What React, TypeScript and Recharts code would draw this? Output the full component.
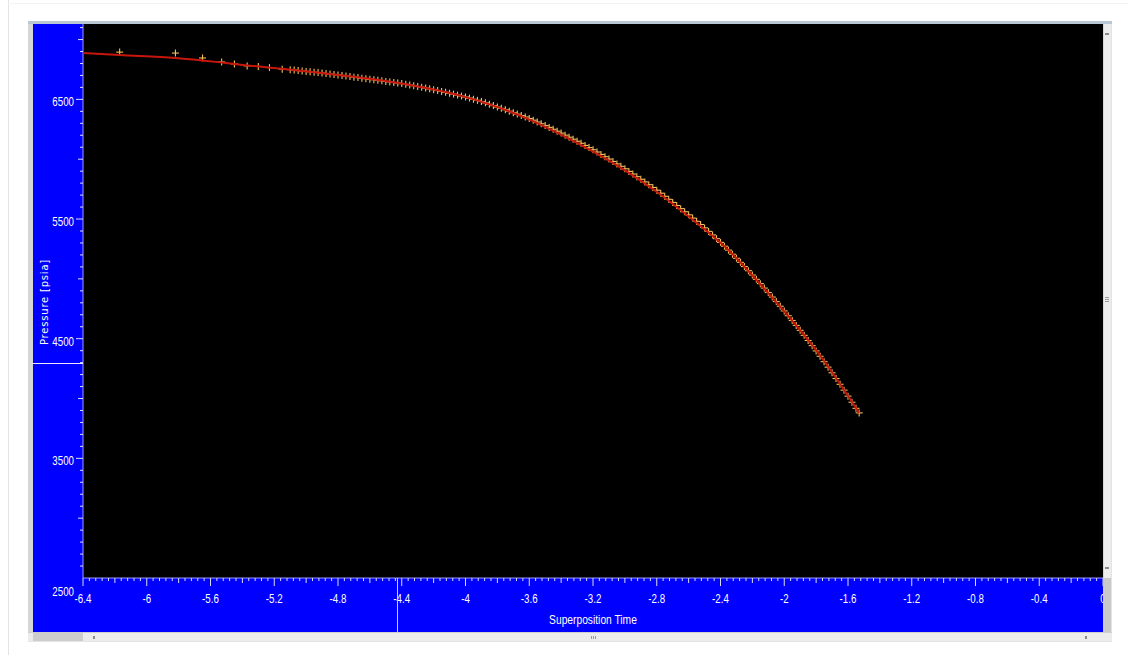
import React from "react";
import { CartesianGrid, ComposedChart, Line, Scatter, XAxis, YAxis } from "recharts";

// x axis labels (superposition time) and y axis labels (pressure, psia)
const timeLabels = [-6.4, -6, -5.6, -5.2, -4.8, -4.4, -4, -3.6, -3.2, -2.8, -2.4, -2, -1.6, -1.2, -0.8, -0.4, 0];
const pressureLabels = [2500, 3500, 4500, 5500, 6500];

// measured points (crosses)
const measuredTime = [
  -6.17, -5.82, -5.65, -5.53, -5.45, -5.37, -5.3, -5.23, -5.15,
  -5.1, -5.075, -5.05, -5.025, -5.0, -4.975, -4.95, -4.925, -4.9, -4.875,
  -4.85, -4.825, -4.8, -4.775, -4.75, -4.725, -4.7, -4.675, -4.65, -4.625,
  -4.6, -4.575, -4.55, -4.525, -4.5, -4.475, -4.45, -4.425, -4.4, -4.375,
  -4.35, -4.325, -4.3, -4.275, -4.25, -4.225, -4.2, -4.175, -4.15, -4.125,
  -4.1, -4.075, -4.05, -4.025, -4.0, -3.975, -3.95, -3.925, -3.9, -3.875,
  -3.85, -3.825, -3.8, -3.775, -3.75, -3.725, -3.7, -3.675, -3.65, -3.625,
  -3.6, -3.575, -3.55, -3.525, -3.5, -3.475, -3.45, -3.425, -3.4, -3.375,
  -3.35, -3.325, -3.3, -3.275, -3.25, -3.225, -3.2, -3.175, -3.15, -3.125,
  -3.1, -3.075, -3.05, -3.025, -3.0, -2.975, -2.95, -2.925, -2.9, -2.875,
  -2.85, -2.825, -2.8, -2.775, -2.75, -2.725, -2.7, -2.675, -2.65, -2.625,
  -2.6, -2.575, -2.55, -2.525, -2.5, -2.475, -2.45, -2.425, -2.4, -2.375,
  -2.35, -2.325, -2.3, -2.275, -2.25, -2.225, -2.2, -2.175, -2.15, -2.125,
  -2.1, -2.075, -2.05, -2.025, -2.0, -1.975, -1.95, -1.925, -1.9, -1.875,
  -1.85, -1.825, -1.8, -1.775, -1.75, -1.725, -1.7, -1.675, -1.65, -1.625,
  -1.6, -1.575, -1.55, -1.53,
];
const measuredPressure = [
  6895, 6887, 6846, 6813, 6796, 6780, 6775, 6766, 6752,
  6748, 6745, 6741, 6738, 6734, 6731, 6727, 6724, 6720, 6716,
  6712, 6708, 6704, 6700, 6695, 6691, 6686, 6682, 6677, 6673,
  6668, 6664, 6659, 6655, 6650, 6646, 6641, 6637, 6632, 6626,
  6620, 6614, 6608, 6602, 6595, 6588, 6581, 6574, 6566, 6559,
  6551, 6544, 6536, 6528, 6520, 6511, 6501, 6492, 6482, 6471,
  6459, 6448, 6436, 6425, 6413, 6401, 6389, 6377, 6365, 6353,
  6340, 6326, 6311, 6296, 6281, 6266, 6250, 6234, 6218, 6201,
  6184, 6167, 6150, 6133, 6115, 6097, 6079, 6060, 6040, 6021,
  6001, 5981, 5961, 5941, 5920, 5898, 5876, 5854, 5832, 5810,
  5787, 5764, 5741, 5716, 5690, 5665, 5639, 5613, 5587, 5561,
  5535, 5508, 5481, 5454, 5426, 5397, 5367, 5336, 5305, 5273,
  5240, 5206, 5172, 5138, 5103, 5068, 5032, 4996, 4960, 4923,
  4886, 4848, 4810, 4771, 4732, 4692, 4652, 4611, 4570, 4528,
  4485, 4442, 4398, 4353, 4308, 4262, 4215, 4167, 4119, 4070,
  4020, 3969, 3918, 3880,
];

// model curve (red line)
const modelTime = [-6.4, -6.17, -5.82, -5.53, -5.37, -5.09, -4.81, -4.42, -4.02, -3.83, -3.62, -3.41, -3.21, -2.99, -2.79, -2.58, -2.37, -2.12, -1.91, -1.78, -1.53];
const modelPressure = [6887, 6870, 6846, 6808, 6784, 6747, 6706, 6637, 6527, 6450, 6344, 6212, 6072, 5899, 5718, 5500, 5266, 4910, 4586, 4368, 3880];

const measured = measuredTime.map((t, i) => ({ t, p: measuredPressure[i] }));
const model = modelTime.map((t, i) => ({ t, p: modelPressure[i] }));

// minor ticks: every 0.04 on x, every 100 psi on y
const xTicks: number[] = [];
for (let k = -640; k <= 0; k += 4) xTicks.push(k / 100);
const yTicks: number[] = [];
for (let v = 2500; v <= 7100; v += 100) yTicks.push(v);

const sans = "'Liberation Sans', Arial, sans-serif";
const tickColor = "#dcdcff";

// condensed look: regular sans squeezed horizontally
const NarrowText = ({ x, y, anchor, children }: any) => (
  <text
    transform={`translate(${x},${y}) scale(0.78,1)`}
    textAnchor={anchor}
    fill="#fff"
    fontSize={12.5}
    fontFamily={sans}
  >
    {children}
  </text>
);

const TimeTick = (props: any) => {
  const { x, y, payload } = props;
  const k = Math.round(payload.value * 100);
  const major = k % 40 === 0;
  const mid = k % 20 === 0;
  const len = major ? 8 : mid ? 5 : 3;
  const label = timeLabels.find((v) => Math.round(v * 100) === k);
  return (
    <g>
      <line x1={x} x2={x} y1={y} y2={y + len} stroke={tickColor} />
      {major && label !== undefined && (
        <NarrowText x={x} y={y + 25} anchor="middle">
          {String(label)}
        </NarrowText>
      )}
    </g>
  );
};

const PressureTick = (props: any) => {
  const { x, y, payload } = props;
  const v = payload.value;
  const major = pressureLabels.includes(v);
  const mid = v % 500 === 0;
  const len = major ? 7 : mid ? 5 : 3;
  return (
    <g>
      {v !== 2500 && <line x1={x - len} x2={x} y1={y} y2={y} stroke={tickColor} />}
      {major && (
        <NarrowText x={x - 9} y={v === 2500 ? y + 18 : y + 7} anchor="end">
          {v}
        </NarrowText>
      )}
    </g>
  );
};

const CrossMark = (props: any) => {
  const { cx, cy } = props;
  if (cx == null || cy == null) return null;
  return (
    <g>
      <line x1={cx - 3.5} x2={cx + 3.5} y1={cy} y2={cy} stroke="#f7bf5a" strokeWidth={1.1} />
      <line x1={cx} x2={cx} y1={cy - 3.5} y2={cy + 3.5} stroke="#f7bf5a" strokeWidth={1.1} />
    </g>
  );
};

const box = (left: number, top: number, width: number, height: number, background: string, extra: any = {}) => (
  <div style={{ position: "absolute", left, top, width, height, background, ...extra }} />
);

export default function App() {
  return (
    <div style={{ position: "absolute", left: 0, top: 0, width: 1128, height: 655, background: "#fff", overflow: "hidden" }}>
      {box(8, 0, 1, 655, "#e3e3e3")}
      {box(8, 3, 1120, 1, "#f3f3f3")}
      {/* window frame */}
      {box(28, 21, 1084, 621, "#e4e4e4")}
      {box(28, 21, 1084, 3, "#b9c6d4")}
      {box(28, 24, 5, 608, "#d6d6d6")}

      <div style={{ position: "absolute", left: 33, top: 24, width: 1070, height: 608, background: "#0000ff" }}>
        <ComposedChart width={1070} height={608} margin={{ top: 0, right: 0, bottom: 0, left: 0 }}>
          <CartesianGrid fill="#000" horizontal={false} vertical={false} />
          <XAxis
            type="number"
            dataKey="t"
            domain={[-6.4, 0]}
            ticks={xTicks}
            interval={0}
            allowDataOverflow
            height={54}
            tickSize={0}
            tickMargin={0}
            tickLine={false}
            axisLine={{ stroke: "#9a9aff" }}
            tick={<TimeTick />}
          />
          <YAxis
            type="number"
            dataKey="p"
            domain={[2500, 7130]}
            ticks={yTicks}
            interval={0}
            allowDataOverflow
            width={50}
            tickSize={0}
            tickMargin={0}
            tickLine={false}
            axisLine={{ stroke: "#9a9aff" }}
            tick={<PressureTick />}
          />
          <Scatter data={measured} dataKey="p" shape={<CrossMark />} isAnimationActive={false} />
          <Line
            data={model}
            dataKey="p"
            type="monotone"
            stroke="#c8160c"
            strokeWidth={2}
            dot={false}
            activeDot={false}
            isAnimationActive={false}
            zIndex={700}
          />
        </ComposedChart>
      </div>

      {/* cursor marks on the axes */}
      {box(33, 363, 50, 1, "#e8e8ff")}
      {box(397, 578, 1, 54, "#d0d0d0")}

      {/* axis titles */}
      <div
        style={{
          position: "absolute",
          left: -15,
          top: 296,
          width: 120,
          height: 12,
          lineHeight: "12px",
          textAlign: "center",
          color: "#fff",
          fontFamily: "'DejaVu Sans', sans-serif",
          fontSize: 10,
          letterSpacing: 0.8,
          transform: "rotate(-90deg)",
        }}
      >
        Pressure [psia]
      </div>
      <div
        style={{
          position: "absolute",
          left: 493,
          top: 613,
          width: 200,
          lineHeight: "14px",
          textAlign: "center",
          color: "#fff",
          fontFamily: sans,
          fontSize: 12.5,
          transform: "scaleX(0.82)",
        }}
      >
        Superposition Time
      </div>

      {/* right scrollbar */}
      {box(1103, 24, 8, 554, "#ececec", { borderLeft: "1px solid #d4d4d4", boxSizing: "border-box" })}
      {box(1103, 578, 8, 54, "#c9c9c9")}
      {box(1105, 33, 4, 2, "#8a8a8a")}
      {box(1105, 567, 4, 2, "#8a8a8a")}
      {box(1105, 297, 4, 1, "#9a9a9a")}
      {box(1105, 299, 4, 1, "#9a9a9a")}
      {box(1105, 301, 4, 1, "#9a9a9a")}

      {/* bottom scrollbar */}
      {box(28, 632, 1084, 9, "#ececec", { borderTop: "1px solid #d0d0d0", boxSizing: "border-box" })}
      {box(33, 632, 50, 9, "#cdcdcd")}
      {box(93, 636, 2, 3, "#8a8a8a")}
      {box(1085, 636, 2, 3, "#8a8a8a")}
      {box(591, 636, 1, 3, "#9a9a9a")}
      {box(593, 636, 1, 3, "#9a9a9a")}
      {box(595, 636, 1, 3, "#9a9a9a")}
    </div>
  );
}
